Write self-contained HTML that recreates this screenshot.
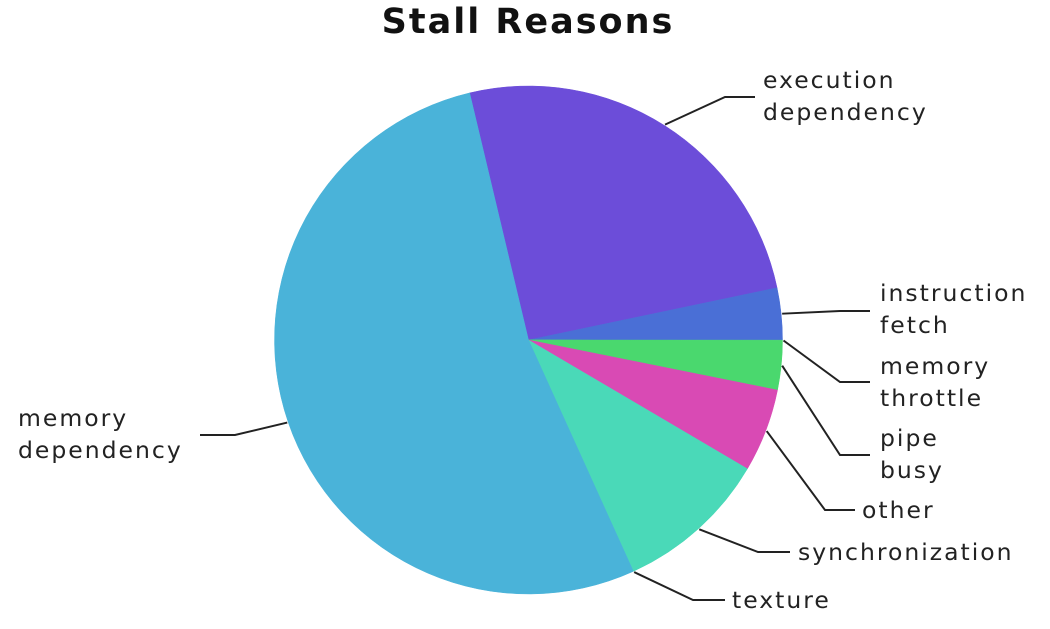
<!DOCTYPE html>
<html><head><meta charset="utf-8">
<style>
html,body{margin:0;padding:0;background:#fff;width:1050px;height:629px;overflow:hidden}
text{font-family:"DejaVu Sans","Liberation Sans",sans-serif}
</style></head>
<body>
<svg id="chart" width="1050" height="629" viewBox="0 0 1050 629" xmlns="http://www.w3.org/2000/svg">
<text x="528" y="33" text-anchor="middle" font-size="35" font-weight="bold" letter-spacing="2" fill="#111">Stall Reasons</text>
<g id="slices"></g>
<g id="labels"></g>
</svg>
<script>
const categories = ["execution dependency","instruction fetch","memory throttle","pipe busy","other","synchronization","texture","memory dependency"];
const values = [25.4, 3.3, 0.05, 3.1, 5.3, 9.7, 0.05, 53.0];
const colors = ["#6c4dd9","#4a6fd6","#4ad86e","#4ad86e","#d94ab4","#4ad9b8","#4ad9b8","#4ab3d9"];
const labelLines = [["execution","dependency"],["instruction","fetch"],["memory","throttle"],["pipe","busy"],["other"],["synchronization"],["texture"],["memory","dependency"]];
// layout (label placement)
const cx=528.5, cy=340, r=254, startDeg=256.6;
const labelPos=[
 {tx:763,ty:80,ex:725,ey:97,hx:755},
 {tx:880,ty:293,ex:840,ey:311,hx:870},
 {tx:880,ty:366,ex:840,ey:382,hx:870},
 {tx:880,ty:438,ex:840,ey:455,hx:870},
 {tx:862,ty:510,ex:825,ey:510,hx:855},
 {tx:798,ty:552,ex:758,ey:552,hx:790},
 {tx:732,ty:600,ex:693,ey:600,hx:725},
 {tx:18,ty:418,ex:235,ey:435,hx:200}
];
const NS="http://www.w3.org/2000/svg";
const total=values.reduce((a,b)=>a+b,0);
const gS=document.getElementById('slices'), gL=document.getElementById('labels');
function pt(deg,rr){const a=deg*Math.PI/180;return [cx+rr*Math.cos(a),cy+rr*Math.sin(a)];}
let ang=startDeg;
values.forEach((v,i)=>{
  const sweep=v/total*360;
  const a0=ang,a1=ang+sweep; ang=a1;
  const p0=pt(a0,r),p1=pt(a1,r);
  const path=document.createElementNS(NS,'path');
  path.setAttribute('d',`M${cx},${cy}L${p0[0]},${p0[1]}A${r},${r} 0 ${sweep>180?1:0} 1 ${p1[0]},${p1[1]}Z`);
  path.setAttribute('fill',colors[i]);
  path.setAttribute('stroke',colors[i]);
  path.setAttribute('stroke-width','0.5');
  
  
  gS.appendChild(path);
  const mid=(a0+a1)/2, e=pt(mid,r+1), L=labelPos[i];
  const line=document.createElementNS(NS,'polyline');
  line.setAttribute('points',`${e[0]},${e[1]} ${L.ex},${L.ey} ${L.hx},${L.ey}`);
  line.setAttribute('fill','none');line.setAttribute('stroke','#222');line.setAttribute('stroke-width','2');
  
  
  gL.appendChild(line);
  const t=document.createElementNS(NS,'text');
  t.setAttribute('x',L.tx);t.setAttribute('font-size','23.5');t.setAttribute('letter-spacing','2');t.setAttribute('fill','#222');
  
  
  labelLines[i].forEach((s,k)=>{const ts=document.createElementNS(NS,'tspan');ts.setAttribute('x',L.tx);ts.setAttribute('y',L.ty+k*32+8);ts.textContent=s;t.appendChild(ts);});
  gL.appendChild(t);
});
</script>
</body></html>
